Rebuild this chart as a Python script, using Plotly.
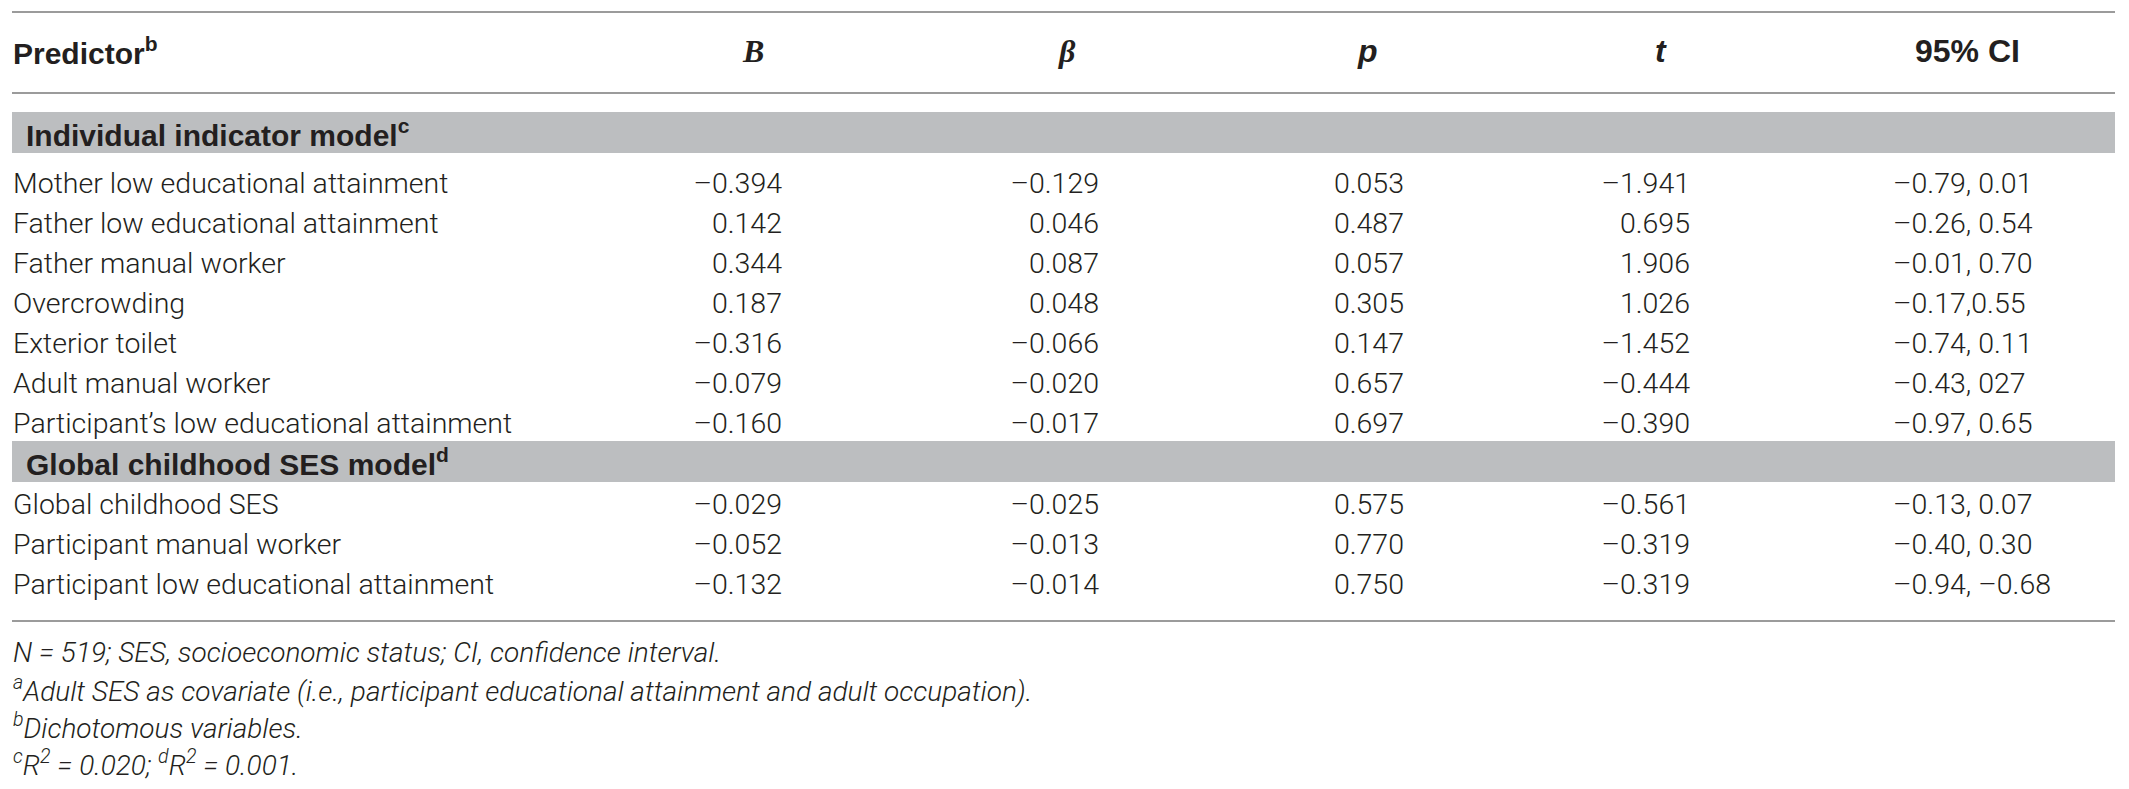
import plotly.graph_objects as go

# Table contents
section_titles = ["Individual indicator model<sup>c</sup>", "Global childhood SES model<sup>d</sup>"]
section_sizes = [7, 3]

predictors = [
    "Mother low educational attainment",
    "Father low educational attainment",
    "Father manual worker",
    "Overcrowding",
    "Exterior toilet",
    "Adult manual worker",
    "Participant’s low educational attainment",
    "Global childhood SES",
    "Participant manual worker",
    "Participant low educational attainment",
]
b_coef = [-0.394, 0.142, 0.344, 0.187, -0.316, -0.079, -0.160, -0.029, -0.052, -0.132]
beta_coef = [-0.129, 0.046, 0.087, 0.048, -0.066, -0.020, -0.017, -0.025, -0.013, -0.014]
p_values = [0.053, 0.487, 0.057, 0.305, 0.147, 0.657, 0.697, 0.575, 0.770, 0.750]
t_values = [-1.941, 0.695, 1.906, 1.026, -1.452, -0.444, -0.390, -0.561, -0.319, -0.319]
ci_95 = [
    "–0.79, 0.01", "–0.26, 0.54", "–0.01, 0.70", "–0.17,0.55", "–0.74, 0.11",
    "–0.43, 027", "–0.97, 0.65", "–0.13, 0.07", "–0.40, 0.30", "–0.94, –0.68",
]

footnotes = [
    "N = 519; SES, socioeconomic status; CI, confidence interval.",
    "<sup>a</sup>Adult SES as covariate (i.e., participant educational attainment and adult occupation).",
    "<sup>b</sup>Dichotomous variables.",
    "<sup>c</sup>R<sup>2</sup> = 0.020; <sup>d</sup>R<sup>2</sup> = 0.001.",
]

W, H = 2129, 789
PAD = 8  # page body margin, axes are kept in window pixels
TXT = "#231f20"
BAND = "#bcbec0"
RULE = "#9b9b9b"
BODY_FONT = "Roboto"
BOLD_FONT = "Liberation Sans"
TEXT_DY = 5  # plotly's "middle" sits a bit high


def fmt(v):
    # en dash for negatives like the journal table
    return ("–" if v < 0 else "") + f"{abs(v):.3f}"


# row layout: gray band per section, then its rows
band_h = 41
row_h = 40
cursor = 112
row_y = []
band_spans = []
for k, n in enumerate(section_sizes):
    band_spans.append((cursor, cursor + band_h))
    cursor += band_h + (8 if k == 0 else 0)
    for i in range(n):
        row_y.append(cursor + row_h / 2)
        cursor += row_h

fig = go.Figure()

columns = [
    (predictors, 13, "middle right"),
    ([fmt(v) for v in b_coef], 782, "middle left"),
    ([fmt(v) for v in beta_coef], 1099, "middle left"),
    ([fmt(v) for v in p_values], 1404, "middle left"),
    ([fmt(v) for v in t_values], 1690, "middle left"),
    (ci_95, 1893, "middle right"),
]
for texts, x, pos in columns:
    fig.add_trace(go.Scatter(
        x=[x] * len(texts), y=[y + TEXT_DY for y in row_y], mode="text", text=texts, textposition=pos,
        textfont=dict(family=BODY_FONT, size=28.5, color=TXT, weight=300),
        hoverinfo="skip", showlegend=False,
    ))

# rules and bands
for y in [12, 93, 621]:
    fig.add_shape(type="line", x0=12, x1=2115, y0=y, y1=y, line=dict(color=RULE, width=2), layer="below")
for (y0, y1), title in zip(band_spans, section_titles):
    fig.add_shape(type="rect", x0=12, x1=2115, y0=y0, y1=y1, fillcolor=BAND, line_width=0, layer="below")
    fig.add_annotation(x=24, y=(y0 + y1) / 2, text=title, showarrow=False, xanchor="left",
                       font=dict(family=BOLD_FONT, size=30, color=TXT, weight=700))

# header
hdr_y = 51
fig.add_annotation(x=11, y=hdr_y, text="Predictor<sup>b</sup>", showarrow=False, xanchor="left",
                   font=dict(family=BOLD_FONT, size=30, color=TXT, weight=700))
for txt, x, fam in [("B", 753, "Liberation Serif"), ("β", 1067, "Liberation Serif"),
                    ("p", 1367, BOLD_FONT), ("t", 1661, BOLD_FONT)]:
    fig.add_annotation(x=x, y=hdr_y, text=txt, showarrow=False, xanchor="center",
                       font=dict(family=fam, size=32, color=TXT, weight=700, style="italic"))
fig.add_annotation(x=1967, y=hdr_y, text="95% CI", showarrow=False, xanchor="center",
                   font=dict(family=BOLD_FONT, size=32, color=TXT, weight=700))

# footnotes
for i, note in enumerate(footnotes):
    fig.add_annotation(x=11, y=652 + i * 37, text=note, showarrow=False, xanchor="left",
                       font=dict(family=BODY_FONT, size=28, color=TXT, weight=300, style="italic"))

fig.update_xaxes(range=[PAD, W - PAD], visible=False, fixedrange=True)
fig.update_yaxes(range=[H - PAD, PAD], visible=False, fixedrange=True)
fig.update_layout(width=W - 2 * PAD, height=H - 2 * PAD, margin=dict(l=0, r=0, t=0, b=0),
                  plot_bgcolor="white", paper_bgcolor="white", showlegend=False)

fig.write_html("out.html")
